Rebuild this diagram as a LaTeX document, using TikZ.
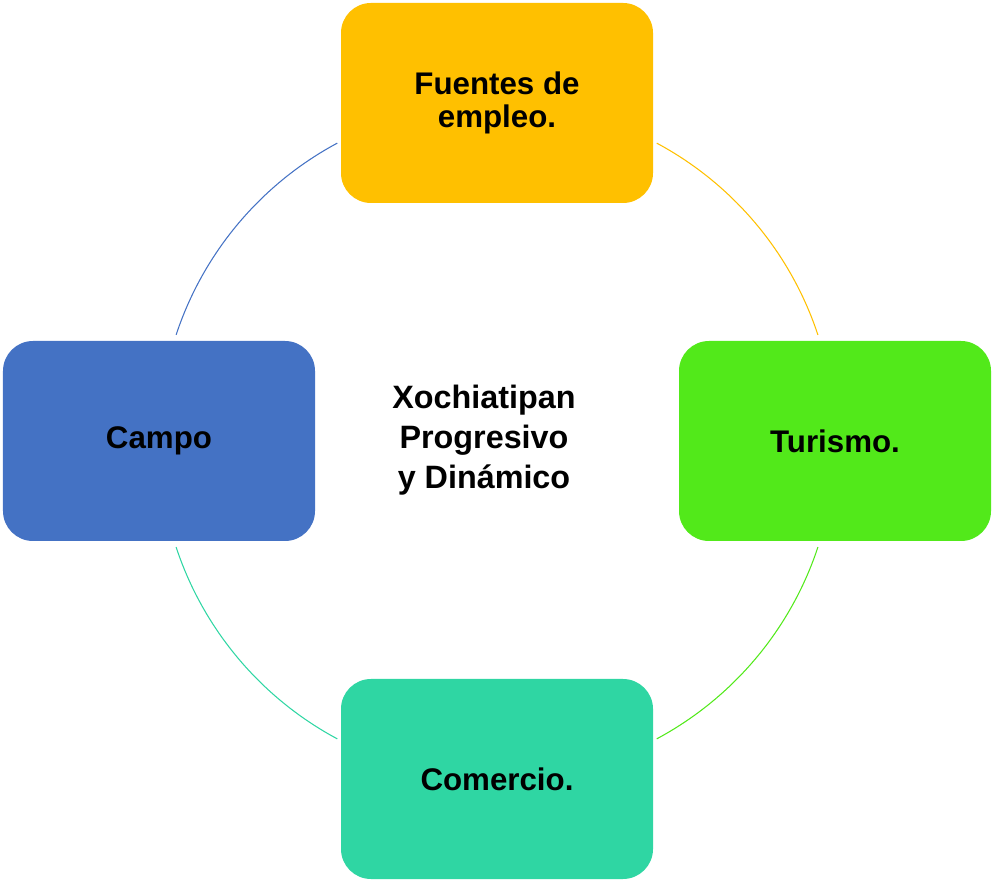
\documentclass[tikz,border=0pt]{standalone}
\usepackage{fontspec}
\setmainfont{Liberation Sans}
\usetikzlibrary{positioning}

\begin{document}
\begin{tikzpicture}
  % Colores de los temas
  \definecolor{empleocolor}{RGB}{255,192,0}     % Amarillo
  \definecolor{turismocolor}{RGB}{82,233,26}    % Verde
  \definecolor{comerciocolor}{RGB}{47,214,163}  % Turquesa
  \definecolor{campocolor}{RGB}{68,114,196}     % Azul
  \tikzset{
    tema/.style={rectangle, rounded corners=0.6cm, minimum width=6.24cm, minimum height=4cm,
      align=center, font=\fontsize{17.8}{18.4}\selectfont\bfseries},
    anillo/.style={line width=0.6pt}
  }
  \useasboundingbox (0,0) rectangle (19.84,17.64);

  % Nodo central
  \node[align=center, font=\fontsize{18.4}{22.7}\selectfont\bfseries] (centro) at (9.68,8.84)
    {Xochiatipan\\Progresivo\\y Dinámico};
  \coordinate (c) at (9.94,8.82);

  % Temas alrededor
  \node[tema, fill=empleocolor] (empleo) at (9.94,15.58) {Fuentes de\\empleo.};
  \node[tema, fill=turismocolor] (turismo) at (16.70,8.82) {Turismo.};
  \node[tema, fill=comerciocolor] (comercio) at (9.94,2.06) {Comercio.};
  \node[tema, fill=campocolor] (campo) at (3.18,8.82) {Campo};

  % Arcos entre los temas
  \draw[anillo, empleocolor] ([shift={(61.8:6.76)}]c) arc[start angle=61.8, end angle=18.3, radius=6.76];
  \draw[anillo, turismocolor] ([shift={(-18.3:6.76)}]c) arc[start angle=-18.3, end angle=-61.8, radius=6.76];
  \draw[anillo, comerciocolor] ([shift={(-118.2:6.76)}]c) arc[start angle=-118.2, end angle=-161.7, radius=6.76];
  \draw[anillo, campocolor] ([shift={(161.7:6.76)}]c) arc[start angle=161.7, end angle=118.2, radius=6.76];
\end{tikzpicture}
\end{document}
